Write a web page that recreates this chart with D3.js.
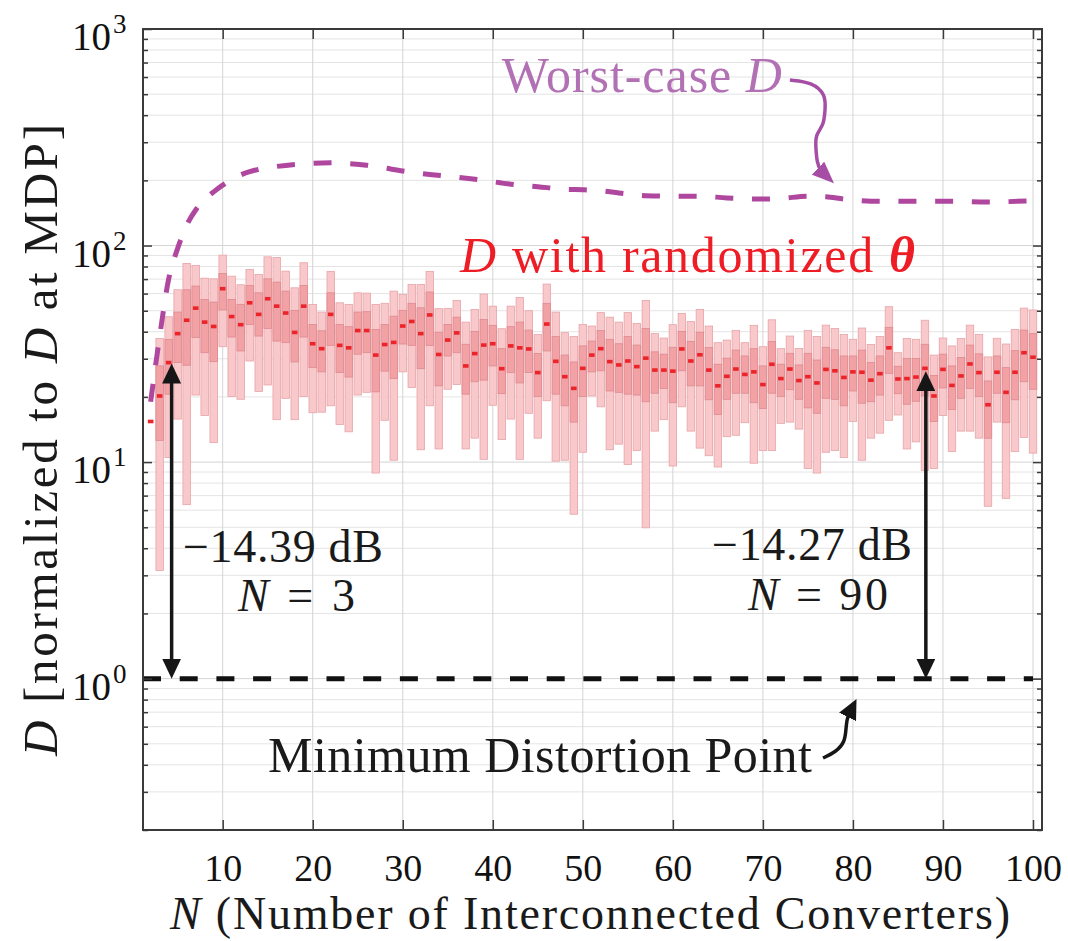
<!DOCTYPE html>
<html>
<head>
<meta charset="utf-8">
<script src="https://cdn.jsdelivr.net/npm/d3@7"></script>
<style>
  body { margin: 0; background: #fff; }
  svg text { font-family: "Liberation Serif", "DejaVu Serif", serif; }
</style>
</head>
<body>
<svg id="chart" width="1068" height="941"></svg>
<script>
// number of interconnected converters (one box per N)
const nValues = d3.range(2, 101);

// D with randomized theta: box statistics per N
const whiskerLow = [15.4, 3.16, 10.5, 15.8, 6.36, 20.4, 16.4, 12.3, 34.1, 20.1,
  19.5, 29.3, 21.2, 22.7, 15.7, 19.7, 15.7, 20.1, 16.9, 17.0,
  18.2, 14.9, 13.8, 20.4, 21.0, 8.90, 15.6, 10.2, 26.1, 22.1,
  11.4, 18.2, 11.5, 21.7, 22.8, 11.5, 12.9, 10.3, 18.3, 12.7,
  15.8, 10.3, 16.8, 12.9, 19.2, 10.1, 10.2, 5.74, 11.1, 20.2,
  18.0, 11.4, 12.1, 9.74, 11.3, 4.97, 13.9, 15.7, 9.59, 18.0,
  13.9, 11.6, 10.7, 9.49, 13.1, 13.3, 15.2, 9.88, 11.3, 11.3,
  15.1, 15.3, 14.2, 9.35, 8.90, 11.1, 11.3, 10.5, 15.4, 10.2,
  12.9, 13.6, 15.6, 16.5, 11.5, 12.4, 9.16, 9.35, 16.4, 11.2,
  13.9, 13.9, 12.9, 6.25, 15.3, 6.80, 11.2, 13.0, 11.0];
const quartileLow = [15.4, 12.6, 20.6, 28.8, 28.0, 37.6, 32.0, 29.1, 50.4, 37.8,
  32.6, 43.2, 38.2, 41.4, 36.2, 35.6, 29.0, 37.8, 27.3, 26.1,
  34.6, 25.9, 24.7, 31.5, 32.0, 21.1, 26.3, 24.3, 35.1, 34.6,
  27.0, 34.6, 22.5, 30.9, 32.0, 20.6, 23.5, 23.9, 27.8, 20.7,
  25.9, 23.2, 25.9, 20.1, 32.6, 20.6, 18.2, 15.3, 20.1, 26.1,
  26.4, 21.3, 21.0, 20.6, 20.4, 19.0, 20.8, 21.9, 18.8, 26.4,
  22.5, 22.5, 19.4, 16.6, 19.5, 20.8, 20.8, 18.8, 17.7, 20.8,
  20.1, 21.6, 19.5, 17.8, 16.8, 19.7, 19.5, 18.2, 21.3, 18.7,
  19.0, 20.4, 25.7, 20.7, 18.5, 19.1, 20.2, 15.4, 22.0, 17.5,
  19.7, 21.9, 20.1, 12.9, 20.8, 15.2, 19.4, 23.5, 21.7];
const medians = [15.4, 20.2, 28.8, 39.2, 45.2, 51.4, 44.3, 42.3, 63.2, 47.0,
  43.1, 54.4, 48.1, 56.8, 52.5, 48.8, 39.7, 52.5, 35.2, 33.4,
  48.1, 34.6, 33.7, 40.5, 40.5, 31.2, 34.9, 35.7, 42.5, 44.6,
  39.2, 47.8, 31.4, 36.6, 39.5, 27.8, 31.7, 34.7, 35.2, 27.0,
  34.4, 33.7, 33.3, 25.9, 43.4, 29.2, 24.8, 21.9, 27.1, 31.2,
  33.4, 29.1, 28.1, 29.3, 27.6, 30.2, 26.6, 26.6, 26.3, 33.3,
  29.3, 31.3, 26.6, 22.5, 24.9, 26.9, 25.4, 26.1, 22.8, 28.3,
  24.3, 26.9, 23.8, 24.8, 23.2, 26.8, 26.4, 24.6, 26.1, 26.0,
  23.9, 25.6, 33.7, 24.2, 24.3, 24.7, 27.1, 20.2, 26.8, 22.6,
  25.0, 28.4, 25.9, 18.4, 26.0, 21.0, 26.0, 32.0, 30.5];
const quartileHigh = [15.4, 27.8, 36.9, 49.3, 62.5, 65.0, 56.4, 54.8, 74.3, 56.4,
  53.5, 65.4, 60.5, 70.2, 67.8, 61.6, 50.2, 65.4, 43.2, 40.4,
  60.5, 43.2, 42.2, 49.3, 49.5, 41.0, 43.2, 47.2, 50.2, 54.1,
  51.6, 61.0, 39.8, 43.2, 46.7, 35.0, 40.1, 45.6, 42.8, 33.4,
  42.2, 44.3, 40.7, 31.7, 54.1, 38.0, 31.2, 29.0, 34.4, 36.2,
  40.5, 36.9, 35.2, 38.0, 34.7, 41.4, 32.3, 31.5, 33.9, 40.1,
  36.1, 39.8, 33.8, 28.3, 30.2, 32.9, 30.9, 33.4, 27.8, 36.0,
  28.3, 31.8, 28.1, 31.8, 29.6, 33.9, 33.0, 30.9, 30.9, 32.9,
  28.8, 30.9, 41.9, 27.7, 30.1, 30.1, 35.0, 25.1, 31.5, 27.8,
  30.4, 34.7, 31.6, 23.7, 30.9, 27.3, 32.7, 40.7, 39.2];
const whiskerHigh = [15.4, 37.2, 46.9, 62.5, 82.7, 80.9, 70.7, 70.2, 90.3, 72.2,
  65.9, 77.5, 73.5, 88.7, 88.1, 76.2, 63.8, 83.3, 53.5, 49.3,
  75.9, 54.4, 53.5, 60.5, 60.3, 53.5, 54.1, 61.6, 59.5, 66.1,
  66.1, 75.9, 51.1, 51.3, 55.8, 44.3, 50.7, 59.7, 52.5, 41.3,
  52.5, 57.6, 50.0, 38.8, 66.4, 49.3, 39.6, 38.0, 43.2, 42.5,
  49.0, 46.7, 44.3, 49.0, 43.7, 55.8, 39.2, 37.4, 43.1, 48.6,
  44.6, 50.7, 42.5, 35.6, 36.6, 40.5, 35.6, 42.8, 34.1, 45.4,
  33.4, 38.2, 33.5, 40.5, 38.0, 42.9, 41.4, 38.8, 36.9, 41.6,
  34.9, 38.0, 52.2, 32.0, 37.2, 36.9, 45.2, 31.2, 37.4, 34.4,
  37.2, 42.9, 38.8, 30.6, 37.3, 35.1, 41.0, 51.4, 50.4];

// worst-case D
const worstCaseN = [2, 3, 4, 5, 6, 7, 8, 9, 10, 12, 14, 16, 18, 20, 22, 24, 26, 28, 30,
  33, 36, 39, 42, 45, 48, 50, 52, 54, 57, 60, 63, 66, 70, 72, 75, 77, 79, 83, 87, 91, 95, 100];
const worstCaseD = [19, 38, 70, 97, 124, 146, 163, 177, 190, 212, 225, 232, 237, 240, 241, 239, 235, 228, 221,
  213, 207, 200, 192, 187, 182, 181, 179, 175, 170, 169, 169, 166, 164, 165, 169, 168, 164, 160, 160, 160, 159, 161];

// minimum distortion point reference and the two marked gaps
const mdpLevel = 1;
const gapN = [4.33, 88.1];
const gapTop = [28.5, 26.3];

// axis ticks
const xTickValues = d3.range(10, 101, 10);
const yMajorTicks = [1, 10, 100, 1000];

// curved annotation arrows, in (N, D) coordinates
const worstArrow = [[73.0, 581], [75.46, 569], [77.01, 496], [76.9, 423], [76.79, 360], [75.79, 324],
  [75.9, 276], [76.01, 243], [76.35, 223], [77.01, 210]];
const mdpArrow = [[76.68, 0.430], [78.12, 0.459], [79.12, 0.510], [79.23, 0.592], [79.34, 0.644],
  [79.45, 0.672], [79.9, 0.732]];

const svg = d3.select("#chart");
const plotLeft = 143, plotRight = 1042, plotTop = 29, plotBottom = 830;

const x = d3.scaleLinear().domain([1.15, 101]).range([plotLeft, plotRight]);
const y = d3.scaleLog().domain([0.2, 1000]).range([plotBottom, plotTop]);

const boxes = nValues.map((n, i) => ({
  n: n, lo: whiskerLow[i], q1: quartileLow[i], med: medians[i], q3: quartileHigh[i], hi: whiskerHigh[i]
}));

// grid
const allY = y.ticks();
const minorY = allY.filter(v => !yMajorTicks.includes(+v.toPrecision(6)));
const grid = svg.append("g");
grid.selectAll("line.gy").data(minorY).join("line")
  .attr("x1", plotLeft).attr("x2", plotRight)
  .attr("y1", d => y(d)).attr("y2", d => y(d))
  .attr("stroke", "#e4e4e4").attr("stroke-width", 1);
grid.selectAll("line.gY").data(yMajorTicks).join("line")
  .attr("x1", plotLeft).attr("x2", plotRight)
  .attr("y1", d => y(d)).attr("y2", d => y(d))
  .attr("stroke", "#d4d4d4").attr("stroke-width", 1);
grid.selectAll("line.gx").data(xTickValues).join("line")
  .attr("x1", d => x(d)).attr("x2", d => x(d))
  .attr("y1", plotTop).attr("y2", plotBottom)
  .attr("stroke", "#d4d4d4").attr("stroke-width", 1);

// boxes
const boxWidth = 0.83, medWidth = 0.62;
const gb = svg.append("g");
gb.selectAll("rect.outer").data(boxes).join("rect")
  .attr("x", d => x(d.n - boxWidth / 2)).attr("width", x(boxWidth) - x(0))
  .attr("y", d => y(d.hi)).attr("height", d => y(d.lo) - y(d.hi))
  .attr("fill", "#f9c8ca").attr("stroke", "#e7a4a8").attr("stroke-width", 0.8);
gb.selectAll("rect.inner").data(boxes).join("rect")
  .attr("x", d => x(d.n - boxWidth / 2)).attr("width", x(boxWidth) - x(0))
  .attr("y", d => y(d.q3)).attr("height", d => y(d.q1) - y(d.q3))
  .attr("fill", "#f2a1a5").attr("stroke", "#dd8a90").attr("stroke-width", 0.8);
gb.selectAll("rect.med").data(boxes).join("rect")
  .attr("x", d => x(d.n - medWidth / 2)).attr("width", x(medWidth) - x(0))
  .attr("y", d => y(d.med) - 1.8).attr("height", 3.6)
  .attr("fill", "#ec2329");

// worst-case curve
const wc = worstCaseN.map((n, i) => [n, worstCaseD[i]]);
svg.append("path").datum(wc)
  .attr("d", d3.line().x(d => x(d[0])).y(d => y(d[1])).curve(d3.curveMonotoneX))
  .attr("fill", "none").attr("stroke", "#b0479f").attr("stroke-width", 5)
  .attr("stroke-dasharray", "18,18.7");

// minimum distortion point line
svg.append("path").datum([[x.domain()[0], mdpLevel], [100, mdpLevel]])
  .attr("d", d3.line().x(d => x(d[0])).y(d => y(d[1])))
  .attr("fill", "none").attr("stroke", "#111").attr("stroke-width", 5)
  .attr("stroke-dasharray", "18,18.7");

// arrow markers
const defs = svg.append("defs");
function marker(id, color, len, wid) {
  defs.append("marker").attr("id", id)
    .attr("markerUnits", "userSpaceOnUse")
    .attr("markerWidth", len).attr("markerHeight", wid)
    .attr("refX", len / 2).attr("refY", wid / 2)
    .attr("orient", "auto-start-reverse")
    .append("path").attr("d", `M0,0L${len},${wid / 2}L0,${wid}Z`).attr("fill", color);
}
marker("hb", "#161616", 20, 19);
marker("hp", "#a64ea6", 22, 18);

// double arrows for the gaps
gapN.forEach((n, i) => {
  svg.append("line")
    .attr("x1", x(n)).attr("x2", x(n))
    .attr("y1", y(gapTop[i]) + 10).attr("y2", y(mdpLevel) - 10)
    .attr("stroke", "#161616").attr("stroke-width", 3.5)
    .attr("marker-start", "url(#hb)").attr("marker-end", "url(#hb)");
});

const curveLine = d3.line().x(d => x(d[0])).y(d => y(d[1])).curve(d3.curveBasis);
svg.append("path").datum(worstArrow).attr("d", curveLine)
  .attr("fill", "none").attr("stroke", "#a64ea6").attr("stroke-width", 3.5)
  .attr("marker-end", "url(#hp)");
svg.append("path").datum(mdpArrow).attr("d", curveLine)
  .attr("fill", "none").attr("stroke", "#161616").attr("stroke-width", 3.5)
  .attr("marker-end", "url(#hb)");

// axes (ticks pointing inward)
const axisColor = "#3a3a3a";
function drawAxis(axis, tx, ty) {
  const g = svg.append("g").attr("transform", `translate(${tx},${ty})`).attr("color", axisColor).call(axis);
  g.select(".domain").remove();
  g.selectAll(".tick line").attr("stroke-width", 1.5);
  return g;
}
const xb = drawAxis(d3.axisBottom(x).tickValues(xTickValues).tickSize(-10).tickPadding(24), 0, plotBottom);
xb.selectAll("text").attr("font-size", 38).attr("fill", "#111")
  .style("font-family", '"Liberation Serif", serif');
drawAxis(d3.axisTop(x).tickValues(xTickValues).tickSize(-10).tickFormat(""), 0, plotTop);
drawAxis(d3.axisLeft(y).tickValues(yMajorTicks).tickSize(-9).tickFormat(""), plotLeft, 0);
drawAxis(d3.axisLeft(y).tickValues(minorY).tickSize(-5).tickFormat(""), plotLeft, 0);
drawAxis(d3.axisRight(y).tickValues(yMajorTicks).tickSize(-9).tickFormat(""), plotRight, 0);
drawAxis(d3.axisRight(y).tickValues(minorY).tickSize(-5).tickFormat(""), plotRight, 0);

svg.append("rect").attr("x", plotLeft).attr("y", plotTop)
  .attr("width", plotRight - plotLeft).attr("height", plotBottom - plotTop)
  .attr("fill", "none").attr("stroke", axisColor).attr("stroke-width", 2);

// y tick labels 10^k
const yl = svg.append("g").attr("fill", "#111");
yMajorTicks.forEach(v => {
  yl.append("text").attr("x", 111).attr("y", y(v) + 21).attr("text-anchor", "end")
    .attr("font-size", 39).text("10");
  yl.append("text").attr("x", 113).attr("y", y(v) + 4)
    .attr("font-size", 27).text(String(Math.round(Math.log10(v))));
});

// rich text helper
function addText(px, py, parts, size, color, len) {
  const t = svg.append("text").attr("x", px).attr("y", py)
    .attr("font-size", size).attr("fill", color);
  if (len) t.attr("textLength", len).attr("lengthAdjust", "spacing");
  parts.forEach(p => {
    const s = t.append("tspan").text(p[0]);
    if (p[1] === "i" || p[1] === "bi") s.attr("font-style", "italic");
    if (p[1] === "bi") s.attr("font-weight", "bold");
  });
  return t;
}

addText(x(41.0), y(512), [["Worst-case ", ""], ["D", "i"]], 50, "#b271b4", 280);
addText(x(36.36), y(75.5), [["D", "i"], [" with randomized ", ""], ["\u03b8", "bi"]], 50, "#ee1c25", 455);
addText(x(5.59), y(3.46), [["\u221214.39 dB", ""]], 46, "#1a1a1a", 200);
addText(x(11.7), y(2.05), [["N", "i"], [" = 3", ""]], 46, "#1a1a1a", 117);
addText(x(64.35), y(3.53), [["\u221214.27 dB", ""]], 46, "#1a1a1a", 200);
addText(x(68.35), y(2.07), [["N", "i"], [" = 90", ""]], 46, "#1a1a1a", 140);
addText(x(15.03), y(0.371), [["Minimum Distortion Point", ""]], 50, "#1a1a1a", 544);

// axis titles
addText(170, 929, [["N", "i"], [" (Number of Interconnected Converters)", ""]], 46, "#1a1a1a", 840);
addText(0, 0, [["D", "i"], [" [normalized to ", ""], ["D", "i"], [" at MDP]", ""]], 49, "#1a1a1a", 632)
  .attr("transform", "translate(57,756) rotate(-90)");
</script>
</body>
</html>
